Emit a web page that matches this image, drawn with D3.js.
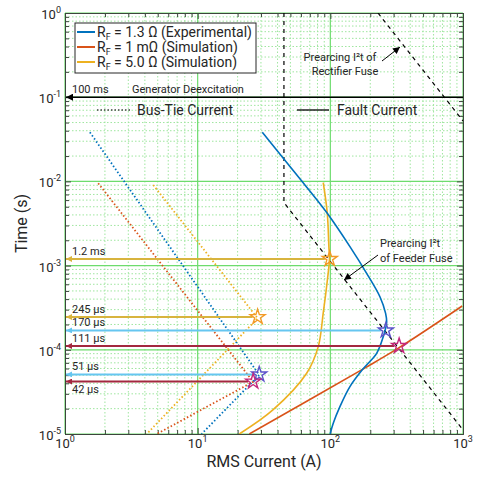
<!DOCTYPE html>
<html>
    <head>
        <meta charset="utf-8">
        <title>Fault and bus-tie current vs fuse prearcing I2t</title>
        <script src="https://cdnjs.cloudflare.com/ajax/libs/d3/7.8.5/d3.min.js"></script>
        <style>
            body { margin: 0; background: #ffffff; }
            text { font-family: Roboto, "Noto Sans", sans-serif; fill: #262626; }
        </style>
    </head>
    <body>
        <script type="text/javascript">

            // Fault current, R_F = 1.3 Ohm (experimental)
            var expI = [30.7, 60.0, 94.8, 140.5, 187.8, 236.5, 261, 265.6, 250.5, 223.4, 176.1, 140.5, 118.1, 105.2, 99.6];
            var expT = [0.0383, 0.0104, 4.18e-3, 1.68e-3, 8.1e-4, 4.27e-4, 2.71e-4, 2.08e-4, 1.43e-4, 9.08e-5, 5.91e-5, 3.65e-5, 2.11e-5, 1.34e-5, 1e-5];

            // Fault current, R_F = 1 mOhm (simulation)
            var sim1I = [24.5, 176, 330, 986];
            var sim1T = [1e-5, 5.9e-5, 1.06e-4, 3.31e-4];

            // Fault current, R_F = 5.0 Ohm (simulation)
            var sim5I = [88.4, 94.8, 97.5, 98.5, 95, 88.4, 81.1, 66.3, 36.9, 20.6];
            var sim5T = [9.66e-3, 4.21e-3, 1.68e-3, 1.2e-3, 6.75e-4, 2.74e-4, 1.09e-4, 5.26e-5, 1.93e-5, 1e-5];

            // Bus-tie currents (dotted)
            var busExpI = [1.54, 29.1, 10.7];
            var busExpT = [0.0383, 5.02e-5, 1e-5];
            var bus1I = [1.78, 26.2, 4.91];
            var bus1T = [9.5e-3, 4.18e-5, 1e-5];
            var bus5I = [4.63, 28.3, 4.13];
            var bus5T = [9.06e-3, 2.37e-4, 1e-5];

            // Prearcing I2t of the fuses
            var rectI = [228.6, 1000];
            var rectT = [1, 0.0523];
            var feedI = [44.7, 44.7, 1000];
            var feedT = [1, 0.0056, 1.12e-5];

            // Melting points (stars) and their times
            var starI = [99, 28.3, 262, 29.1, 330, 26.2];
            var starT = [1.2e-3, 2.45e-4, 1.7e-4, 5.1e-5, 1.11e-4, 4.2e-5];
            var starLabels = ["1.2 ms", "245 µs", "170 µs", "51 µs", "111 µs", "42 µs"];

            // Generator deexcitation time
            var deexT = 0.1;

            // Tick labels
            var xMajor = [1, 10, 100, 1000];
            var xExp = ["0", "1", "2", "3"];
            var yMajor = [1, 0.1, 0.01, 1e-3, 1e-4, 1e-5];
            var yExp = ["0", "-1", "-2", "-3", "-4", "-5"];

            // Styles
            var starColors = ["#f39a26", "#f39a26", "#5b52c9", "#5b52c9", "#c4287c", "#c4287c"];
            var arrowColors = ["#d8b43e", "#d8b43e", "#66c6f0", "#66c6f0", "#a3283f", "#a3283f"];
            var labelBelow = [false, false, false, false, false, true];

            var svg_width = 485;
            var svg_height = 477;
            var pLeft = 65, pRight = 463, pTop = 13, pBottom = 434;

            var svg = d3.select("body")
                        .append("svg")
                        .attr("width", svg_width)
                        .attr("height", svg_height);

            var x = d3.scaleLog().domain([1, 1000]).range([pLeft, pRight]);
            var y = d3.scaleLog().domain([1e-5, 1]).range([pBottom, pTop]);

            // minor tick positions for the log axes
            var xMinor = [];
            for (var d = 1; d < 1000; d *= 10) {
                for (var k = 2; k < 10; k++) xMinor.push(d * k);
            }
            var yMinor = [];
            for (var e = 1e-5; e < 0.99; e *= 10) {
                for (var k = 2; k < 10; k++) yMinor.push(e * k);
            }

            var defs = svg.append("defs");
            defs.append("clipPath").attr("id", "plotclip")
                .append("rect")
                .attr("x", pLeft).attr("y", pTop)
                .attr("width", pRight - pLeft).attr("height", pBottom - pTop);

            // arrow heads, one per colour
            function addMarker(id, color, w, h) {
                defs.append("marker")
                    .attr("id", id)
                    .attr("viewBox", "0 0 10 10")
                    .attr("refX", 10).attr("refY", 5)
                    .attr("markerUnits", "userSpaceOnUse")
                    .attr("markerWidth", w).attr("markerHeight", h)
                    .attr("orient", "auto")
                    .append("path")
                    .attr("d", "M0,0 L10,5 L0,10 z")
                    .attr("fill", color);
            }
            addMarker("arrow-black", "#000000", 8, 7);
            addMarker("arrow-gold", "#d8b43e", 7, 6);
            addMarker("arrow-sky", "#66c6f0", 7, 6);
            addMarker("arrow-red", "#a3283f", 7, 6);
            var markerIds = ["arrow-gold", "arrow-gold", "arrow-sky", "arrow-sky", "arrow-red", "arrow-red"];

            // Grid
            var grid = svg.append("g");
            grid.selectAll(".xminor").data(xMinor).enter().append("line")
                .attr("x1", function(d) { return x(d); })
                .attr("x2", function(d) { return x(d); })
                .attr("y1", pTop).attr("y2", pBottom)
                .attr("stroke", "#9fe69f").attr("stroke-dasharray", "1.5,2");
            grid.selectAll(".yminor").data(yMinor).enter().append("line")
                .attr("y1", function(d) { return y(d); })
                .attr("y2", function(d) { return y(d); })
                .attr("x1", pLeft).attr("x2", pRight)
                .attr("stroke", "#9fe69f").attr("stroke-dasharray", "1.5,2");
            grid.selectAll(".xmajor").data(xMajor).enter().append("line")
                .attr("x1", function(d) { return x(d); })
                .attr("x2", function(d) { return x(d); })
                .attr("y1", pTop).attr("y2", pBottom)
                .attr("stroke", "#6ddc6d").attr("stroke-width", 1.2);
            grid.selectAll(".ymajor").data(yMajor).enter().append("line")
                .attr("y1", function(d) { return y(d); })
                .attr("y2", function(d) { return y(d); })
                .attr("x1", pLeft).attr("x2", pRight)
                .attr("stroke", "#6ddc6d").attr("stroke-width", 1.2);

            // Axes with ticks pointing inwards
            function drawAxis(axis, tx, ty, values, size) {
                var g = svg.append("g")
                    .attr("transform", "translate(" + tx + "," + ty + ")")
                    .call(axis.tickValues(values).tickSize(size).tickSizeOuter(0).tickFormat(""));
                g.selectAll("path, line").attr("stroke", "#3c463c");
                return g;
            }
            drawAxis(d3.axisBottom(x), 0, pBottom, xMinor, -4);
            drawAxis(d3.axisBottom(x), 0, pBottom, xMajor, -6);
            drawAxis(d3.axisTop(x), 0, pTop, xMinor, -4);
            drawAxis(d3.axisTop(x), 0, pTop, xMajor, -6);
            drawAxis(d3.axisLeft(y), pLeft, 0, yMinor, -4);
            drawAxis(d3.axisLeft(y), pLeft, 0, yMajor, -6);
            drawAxis(d3.axisRight(y), pRight, 0, yMinor, -4);
            drawAxis(d3.axisRight(y), pRight, 0, yMajor, -6);

            // Tick labels as 10 with raised exponent
            function powLabel(px, py, exp, anchor) {
                var t = svg.append("text")
                    .attr("x", px).attr("y", py)
                    .attr("text-anchor", anchor)
                    .style("font-size", "13px");
                t.append("tspan").text("10");
                t.append("tspan").attr("dy", -6).style("font-size", "9px").text(exp);
            }
            xMajor.forEach(function(d, i) { powLabel(x(d), pBottom + 14, xExp[i], "middle"); });
            yMajor.forEach(function(d, i) { powLabel(pLeft - 4, y(d) + 6, yExp[i], "end"); });

            // Axis titles
            svg.append("text")
                .attr("x", (pLeft + pRight) / 2).attr("y", 467)
                .attr("text-anchor", "middle")
                .style("font-size", "16px")
                .text("RMS Current (A)");
            svg.append("text")
                .attr("transform", "translate(27," + ((pTop + pBottom) / 2) + ") rotate(-90)")
                .attr("text-anchor", "middle")
                .style("font-size", "16px")
                .text("Time (s)");

            var plot = svg.append("g").attr("clip-path", "url(#plotclip)");

            function pairs(I, T) {
                return I.map(function(v, i) { return [v, T[i]]; });
            }
            var line = d3.line()
                         .x(function(d) { return x(d[0]); })
                         .y(function(d) { return y(d[1]); });
            var smooth = d3.line()
                           .curve(d3.curveCatmullRom)
                           .x(function(d) { return x(d[0]); })
                           .y(function(d) { return y(d[1]); });

            // Fuse prearcing curves
            plot.append("path").datum(pairs(rectI, rectT))
                .attr("d", line).attr("fill", "none")
                .attr("stroke", "#000").attr("stroke-width", 1.2).attr("stroke-dasharray", "4,4");
            plot.append("path").datum(pairs(feedI, feedT))
                .attr("d", line).attr("fill", "none")
                .attr("stroke", "#000").attr("stroke-width", 1.2).attr("stroke-dasharray", "4,4");

            // Generator deexcitation line
            svg.append("line")
                .attr("x1", pRight).attr("x2", pLeft + 1)
                .attr("y1", y(deexT)).attr("y2", y(deexT))
                .attr("stroke", "#000").attr("stroke-width", 1.5)
                .attr("marker-end", "url(#arrow-black)");

            // Bus-tie currents
            var busSeries = [[busExpI, busExpT, "#0072bd"], [bus1I, bus1T, "#d95319"], [bus5I, bus5T, "#edb120"]];
            busSeries.forEach(function(s) {
                plot.append("path").datum(pairs(s[0], s[1]))
                    .attr("d", line).attr("fill", "none")
                    .attr("stroke", s[2]).attr("stroke-width", 1.8)
                    .attr("stroke-dasharray", "1.5,2.2");
            });

            // Fault currents
            plot.append("path").datum(pairs(sim1I, sim1T))
                .attr("d", smooth).attr("fill", "none")
                .attr("stroke", "#d95319").attr("stroke-width", 1.6);
            plot.append("path").datum(pairs(sim5I, sim5T))
                .attr("d", smooth).attr("fill", "none")
                .attr("stroke", "#edb120").attr("stroke-width", 1.6);
            plot.append("path").datum(pairs(expI, expT))
                .attr("d", smooth).attr("fill", "none")
                .attr("stroke", "#0072bd").attr("stroke-width", 1.6);

            // Time arrows from each star to the time axis
            starI.forEach(function(v, i) {
                svg.append("line")
                    .attr("x1", x(v) - 5).attr("x2", pLeft + 1)
                    .attr("y1", y(starT[i])).attr("y2", y(starT[i]))
                    .attr("stroke", arrowColors[i]).attr("stroke-width", 2)
                    .attr("marker-end", "url(#" + markerIds[i] + ")");
                svg.append("text")
                    .attr("x", pLeft + 7)
                    .attr("y", labelBelow[i] ? y(starT[i]) + 11 : y(starT[i]) - 4)
                    .style("font-size", "11px")
                    .text(starLabels[i]);
            });

            // Stars
            svg.selectAll(".star").data(starI).enter().append("path")
                .attr("transform", function(d, i) { return "translate(" + x(d) + "," + y(starT[i]) + ")"; })
                .attr("d", d3.symbol().type(d3.symbolStar).size(70))
                .attr("fill", "none")
                .attr("stroke", function(d, i) { return starColors[i]; })
                .attr("stroke-width", 1.4);

            // Deexcitation text
            svg.append("text").attr("x", 72).attr("y", 93).style("font-size", "11px").text("100 ms");
            svg.append("text").attr("x", 132).attr("y", 93).style("font-size", "11px").text("Generator Deexcitation");

            // Line style key
            svg.append("line").attr("x1", 97).attr("x2", 130).attr("y1", 110).attr("y2", 110)
                .attr("stroke", "#444").attr("stroke-width", 1.5).attr("stroke-dasharray", "1.5,2");
            svg.append("text").attr("x", 137).attr("y", 115).style("font-size", "14px").text("Bus-Tie Current");
            svg.append("line").attr("x1", 297).attr("x2", 329).attr("y1", 110).attr("y2", 110)
                .attr("stroke", "#000").attr("stroke-width", 1.3);
            svg.append("text").attr("x", 337).attr("y", 115).style("font-size", "14px").text("Fault Current");

            // Fuse annotations
            svg.append("text").attr("x", 340).attr("y", 61).attr("text-anchor", "middle")
                .style("font-size", "11px").text("Prearcing I²t of");
            svg.append("text").attr("x", 345).attr("y", 75).attr("text-anchor", "middle")
                .style("font-size", "11px").text("Rectifier Fuse");
            svg.append("line").attr("x1", 382).attr("y1", 61).attr("x2", 400).attr("y2", 47)
                .attr("stroke", "#000").attr("stroke-width", 1).attr("marker-end", "url(#arrow-black)");

            svg.append("text").attr("x", 380).attr("y", 247).style("font-size", "11px").text("Prearcing I²t");
            svg.append("text").attr("x", 380).attr("y", 262).style("font-size", "11px").text("of Feeder Fuse");
            svg.append("line").attr("x1", 378).attr("y1", 255).attr("x2", 344).attr("y2", 280)
                .attr("stroke", "#000").attr("stroke-width", 1).attr("marker-end", "url(#arrow-black)");

            // Legend
            var legend = svg.append("g");
            legend.append("rect")
                .attr("x", 75).attr("y", 23).attr("width", 181).attr("height", 50)
                .attr("fill", "#fff").attr("stroke", "#262626").attr("stroke-width", 1);
            var legendNames = [" = 1.3 Ω (Experimental)", " = 1 mΩ (Simulation)", " = 5.0 Ω (Simulation)"];
            var legendColors = ["#0072bd", "#d95319", "#edb120"];
            legendNames.forEach(function(n, i) {
                var ly = 32 + i * 15;
                legend.append("line").attr("x1", 77).attr("x2", 95).attr("y1", ly).attr("y2", ly)
                    .attr("stroke", legendColors[i]).attr("stroke-width", 2);
                var t = legend.append("text").attr("x", 97).attr("y", ly + 5).style("font-size", "14px");
                t.append("tspan").text("R");
                t.append("tspan").attr("dy", 3).style("font-size", "9px").text("F");
                t.append("tspan").attr("dy", -3).text(n);
            });

        </script>
    </body>
</html>
